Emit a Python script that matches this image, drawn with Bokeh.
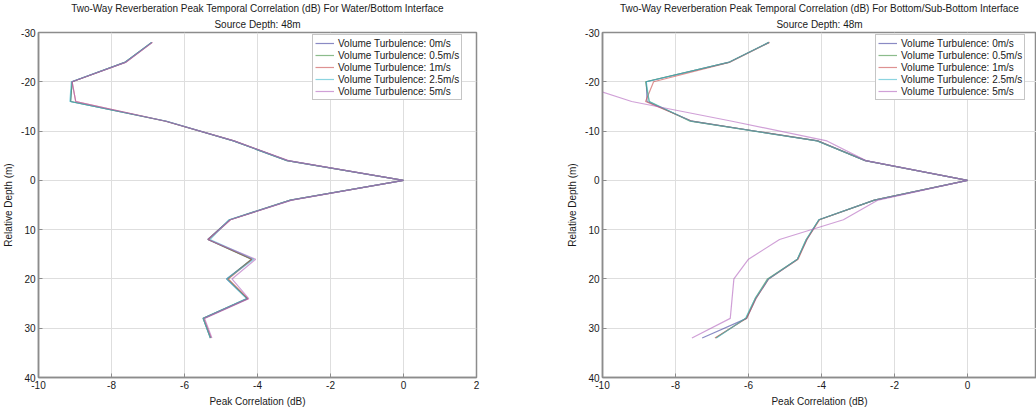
from bokeh.plotting import figure
from bokeh.models import Range1d, FixedTicker, Legend, LegendItem, Title, PrintfTickFormatter
from bokeh.layouts import row
from bokeh.embed import file_html
from bokeh.resources import INLINE

nan = float("nan")

depth = [-28, -24, -20, -16, -12, -8, -4, 0, 4, 8, 12, 16, 20, 24, 28, 32]

series_labels = ["Volume Turbulence: 0m/s", "Volume Turbulence: 0.5m/s",
                 "Volume Turbulence: 1m/s", "Volume Turbulence: 2.5m/s",
                 "Volume Turbulence: 5m/s"]
series_colors = ["#3c3c9c", "#3f8f3f", "#c84a4a", "#40b8cc", "#b060bc"]

# Water/Bottom interface
wb_0 = [-6.90, -7.62, -9.08, -9.12, -6.50, -4.66, -3.19, 0.0, -3.10, -4.76, -5.36, -4.15, -4.85, -4.28, -5.49, -5.29]
wb_05 = [-6.90, -7.62, -9.08, -9.12, -6.52, -4.66, -3.19, 0.0, -3.10, -4.76, -5.36, -4.17, -4.82, -4.28, -5.49, -5.29]
wb_1 = [-6.88, -7.60, -9.08, -8.98, -6.50, -4.64, -3.17, 0.0, -3.08, -4.74, -5.34, -4.15, -4.80, -4.26, -5.47, -5.27]
wb_25 = [-6.90, -7.62, -9.10, -9.14, -6.48, -4.66, -3.19, 0.0, -3.10, -4.78, -5.30, -4.10, -4.85, -4.30, -5.49, -5.29]
wb_5 = [-6.88, -7.60, -9.08, -8.98, -6.52, -4.64, -3.15, 0.0, -3.06, -4.74, -5.36, -4.05, -4.70, -4.24, -5.45, -5.25]

# Bottom/Sub-Bottom interface
bs_0 = [-5.44, -6.52, -8.80, -8.78, -7.55, -4.10, -2.80, 0.0, -2.55, -4.07, -4.40, -4.66, -5.45, -5.80, -6.05, -7.27]
bs_05 = [-5.44, -6.52, -8.82, -8.72, -7.60, -4.12, -2.80, 0.0, -2.55, -4.07, -4.42, -4.66, -5.48, -5.82, -6.07, -6.90]
bs_1 = [-5.42, -6.50, -8.60, -8.82, -7.55, -4.10, -2.80, 0.0, -2.55, -4.05, -4.40, -4.64, -5.45, -5.80, -6.05, -6.92]
bs_25 = [-5.44, -6.52, -8.80, -8.72, -7.58, -4.12, -2.80, 0.0, -2.55, -4.07, -4.42, -4.66, -5.46, -5.82, -6.08, -6.88]
bs_5 = [nan, nan, -10.85, -9.20, -6.45, -3.85, -2.78, 0.0, -2.45, -3.40, -5.15, -6.00, -6.40, -6.45, -6.50, -7.55]

x_ticks = [-10, -8, -6, -4, -2, 0, 2]
y_ticks = [-30, -20, -10, 0, 10, 20, 30, 40]

FONT = "Liberation Sans"
TXT = "#1a1a1a"


def make_plot(title_main, title_sub, series, frame_w, x_end, mb_left, mb_right, legend_x):
    p = figure(frame_width=frame_w, frame_height=345,
               x_range=Range1d(-10, x_end), y_range=Range1d(40, -30),
               output_backend="svg", toolbar_location=None,
               min_border_left=mb_left, min_border_right=mb_right,
               min_border_top=32, min_border_bottom=33,
               background_fill_color="white", border_fill_color="white",
               outline_line_color="#8c8c8c", outline_line_width=1.5)
    p.add_layout(Title(text=title_sub, align="center", text_font=FONT,
                       text_font_size="10px", text_font_style="normal",
                       text_color=TXT, standoff=5), "above")
    p.add_layout(Title(text=title_main, align="center", text_font=FONT,
                       text_font_size="10px", text_font_style="normal",
                       text_color=TXT, standoff=1), "above")

    for ax, ticks in ((p.xaxis, x_ticks), (p.yaxis, y_ticks)):
        ax.ticker = FixedTicker(ticks=ticks)
        ax.formatter = PrintfTickFormatter(format="%d")
        ax.major_tick_in = 4
        ax.major_tick_out = 0
        ax.minor_tick_in = 0
        ax.minor_tick_out = 0
        ax.major_label_standoff = 3
        ax.axis_label_standoff = 4
        ax.major_label_text_font = FONT
        ax.major_label_text_font_size = "10px"
        ax.major_label_text_color = TXT
        ax.axis_label_text_font = FONT
        ax.axis_label_text_font_size = "10px"
        ax.axis_label_text_font_style = "normal"
        ax.axis_label_text_color = TXT
        ax.axis_line_color = "#8c8c8c"
        ax.axis_line_width = 1.5
        ax.major_tick_line_color = "#8c8c8c"
    p.xaxis.axis_label = "Peak Correlation (dB)"
    p.yaxis.axis_label = "Relative Depth (m)"
    p.yaxis.major_label_orientation = 0
    p.grid.grid_line_color = "#dedede"
    p.grid.grid_line_width = 1

    items = []
    for vals, col, lab in zip(series, series_colors, series_labels):
        r = p.line(vals, depth, line_color=col, line_width=1.2, line_alpha=0.6)
        items.append(LegendItem(label=lab, renderers=[r]))
    leg = Legend(items=items, location=(legend_x, 277),
                 label_text_font=FONT, label_text_font_size="10px",
                 label_text_color=TXT,
                 glyph_width=19, glyph_height=12, label_height=12,
                 label_standoff=4, spacing=0, padding=2, margin=0,
                 border_line_color="#8c8c8c", border_line_width=1,
                 background_fill_color="white", background_fill_alpha=1)
    p.add_layout(leg)
    return p


p1 = make_plot("Two-Way Reverberation Peak Temporal Correlation (dB) For Water/Bottom Interface",
               "Source Depth: 48m",
               [wb_0, wb_05, wb_1, wb_25, wb_5], 438, 2, 38, 84, 274)
p2 = make_plot("Two-Way Reverberation Peak Temporal Correlation (dB) For Bottom/Sub-Bottom Interface",
               "Source Depth: 48m",
               [bs_0, bs_05, bs_1, bs_25, bs_5], 434, -10 + 434 * 12 / 438, 42, 0, 273)

layout = row(p1, p2)
open("out.html", "w").write(file_html(layout, INLINE))
